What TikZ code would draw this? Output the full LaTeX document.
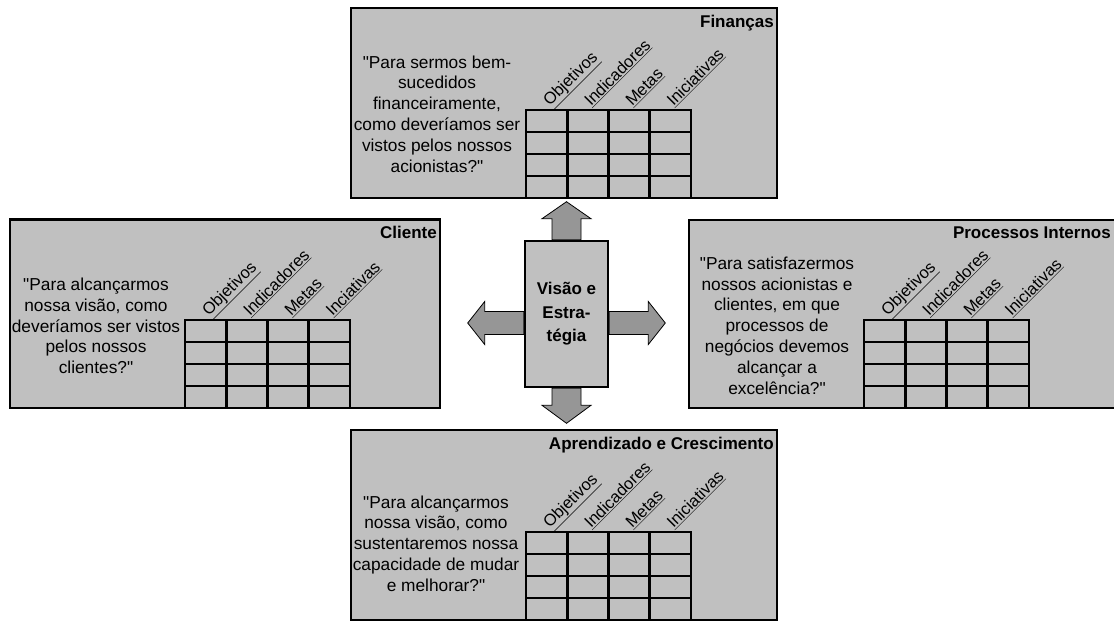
\documentclass[tikz,border=0pt]{standalone}
\usepackage{fontspec}
\setmainfont{Liberation Sans}[Ligatures=TeXOff]
\usetikzlibrary{calc}
\definecolor{panelgray}{HTML}{C0C0C0}
\definecolor{arrowgray}{HTML}{969696}
\tikzset{
  panel/.style={draw=black,line width=2.6pt,fill=panelgray},
  gridline/.style={line width=2.6pt,line cap=rect},
  question/.style={align=center,inner sep=0pt,font=\fontsize{17.3}{20.8}\selectfont},
  paneltitle/.style={anchor=base east,inner sep=0pt,font=\fontsize{17}{20}\selectfont\bfseries},
  colhead/.style={anchor=base west,rotate=45,inner sep=0pt,font=\fontsize{16.5}{18}\selectfont},
  blockarrow/.style={draw=black,line width=0.8pt,fill=arrowgray,line join=miter},
}

\begin{document}
\begin{tikzpicture}[x=1pt,y=-1pt]
\useasboundingbox (0,0) rectangle (1114,622);

% Financas (top)
\begin{scope}[shift={(351,8)}]
  \draw[panel] (0,0) rectangle (426,190);
  \node[paneltitle] (fintitle) at (423,19) {Finanças};
  \node[question] (finq) at (86,106) {"Para sermos bem-\\sucedidos\\financeiramente,\\como deveríamos ser\\vistos pelos nossos\\acionistas?"};
  \foreach \i in {0,...,4} {
    \draw[gridline] (175+\i*41.25,102) -- (175+\i*41.25,190);
    \draw[gridline] (175,102+\i*22) -- (340,102+\i*22);
  }
  \foreach \lbl [count=\k] in {Objetivos,Indicadores,Metas,Iniciativas}
    \node[colhead] (fincol\k) at (178+\k*41.25-20.6,99) {\underline{\lbl}};
\end{scope}

% Cliente (left)
\begin{scope}[shift={(10,219.5)}]
  \draw[panel] (0,0) rectangle (430,188.5);
  \node[paneltitle] (clititle) at (427,19) {Cliente};
  \node[question] (cliq) at (86,106.5) {"Para alcançarmos\\nossa visão, como\\deveríamos ser vistos\\pelos nossos\\clientes?"};
  \foreach \i in {0,...,4} {
    \draw[gridline] (175+\i*41.25,100.5) -- (175+\i*41.25,188.5);
    \draw[gridline] (175,100.5+\i*22) -- (340,100.5+\i*22);
  }
  \foreach \lbl [count=\k] in {Objetivos,Indicadores,Metas,Inciativas}
    \node[colhead] (clicol\k) at (178+\k*41.25-20.6,97.5) {\underline{\lbl}};
\end{scope}

% Processos Internos (right)
\begin{scope}[shift={(689,220)}]
  \draw[panel] (0,0) rectangle (428,188);
  \node[paneltitle] (proctitle) at (422,18) {Processos Internos};
  \node[question] (procq) at (88,105.5) {"Para satisfazermos\\nossos acionistas e\\clientes, em que\\processos de\\negócios devemos\\alcançar a\\excelência?"};
  \foreach \i in {0,...,4} {
    \draw[gridline] (175+\i*41.25,100) -- (175+\i*41.25,188);
    \draw[gridline] (175,100+\i*22) -- (340,100+\i*22);
  }
  \foreach \lbl [count=\k] in {Objetivos,Indicadores,Metas,Iniciativas}
    \node[colhead] (proccol\k) at (178+\k*41.25-20.6,97) {\underline{\lbl}};
\end{scope}

% Aprendizado e Crescimento (bottom)
\begin{scope}[shift={(351,430)}]
  \draw[panel] (0,0) rectangle (426,190);
  \node[paneltitle] (aprtitle) at (423,19) {Aprendizado e Crescimento};
  \node[question] (aprq) at (85,113.5) {"Para alcançarmos\\nossa visão, como\\sustentaremos nossa\\capacidade de mudar\\e melhorar?"};
  \foreach \i in {0,...,4} {
    \draw[gridline] (175+\i*41.25,102) -- (175+\i*41.25,190);
    \draw[gridline] (175,102+\i*22) -- (340,102+\i*22);
  }
  \foreach \lbl [count=\k] in {Objetivos,Indicadores,Metas,Iniciativas}
    \node[colhead] (aprcol\k) at (178+\k*41.25-20.6,99) {\underline{\lbl}};
\end{scope}

% Visao e Estrategia
\node[draw=black,line width=2.6pt,fill=panelgray,minimum width=83pt,minimum height=146pt,
      inner sep=0pt,align=center,font=\fontsize{17}{23.5}\selectfont\bfseries]
      (vis) at (566.5,314) {Visão e\\Estra-\\tégia};

% arrows
\draw[blockarrow] ($(vis.north)+(-14.5,0)$) -- ++(0,-21) -- ++(-10,0) -- ++(24.5,-17)
  -- ++(24.5,17) -- ++(-10,0) -- ++(0,21) -- cycle;
\draw[blockarrow] ($(vis.south)+(-14.5,0)$) -- ++(0,17) -- ++(-10,0) -- ++(24.5,18)
  -- ++(24.5,-18) -- ++(-10,0) -- ++(0,-17) -- cycle;
\draw[blockarrow] ($(vis.east)+(0,-2.5)$) -- ++(39,0) -- ++(0,-10) -- ++(17,21.5)
  -- ++(-17,21.5) -- ++(0,-10) -- ++(-39,0) -- cycle;
\draw[blockarrow] ($(vis.west)+(0,-2.5)$) -- ++(-39,0) -- ++(0,-10) -- ++(-17,21.5)
  -- ++(17,21.5) -- ++(0,-10) -- ++(39,0) -- cycle;
\end{tikzpicture}
\end{document}
